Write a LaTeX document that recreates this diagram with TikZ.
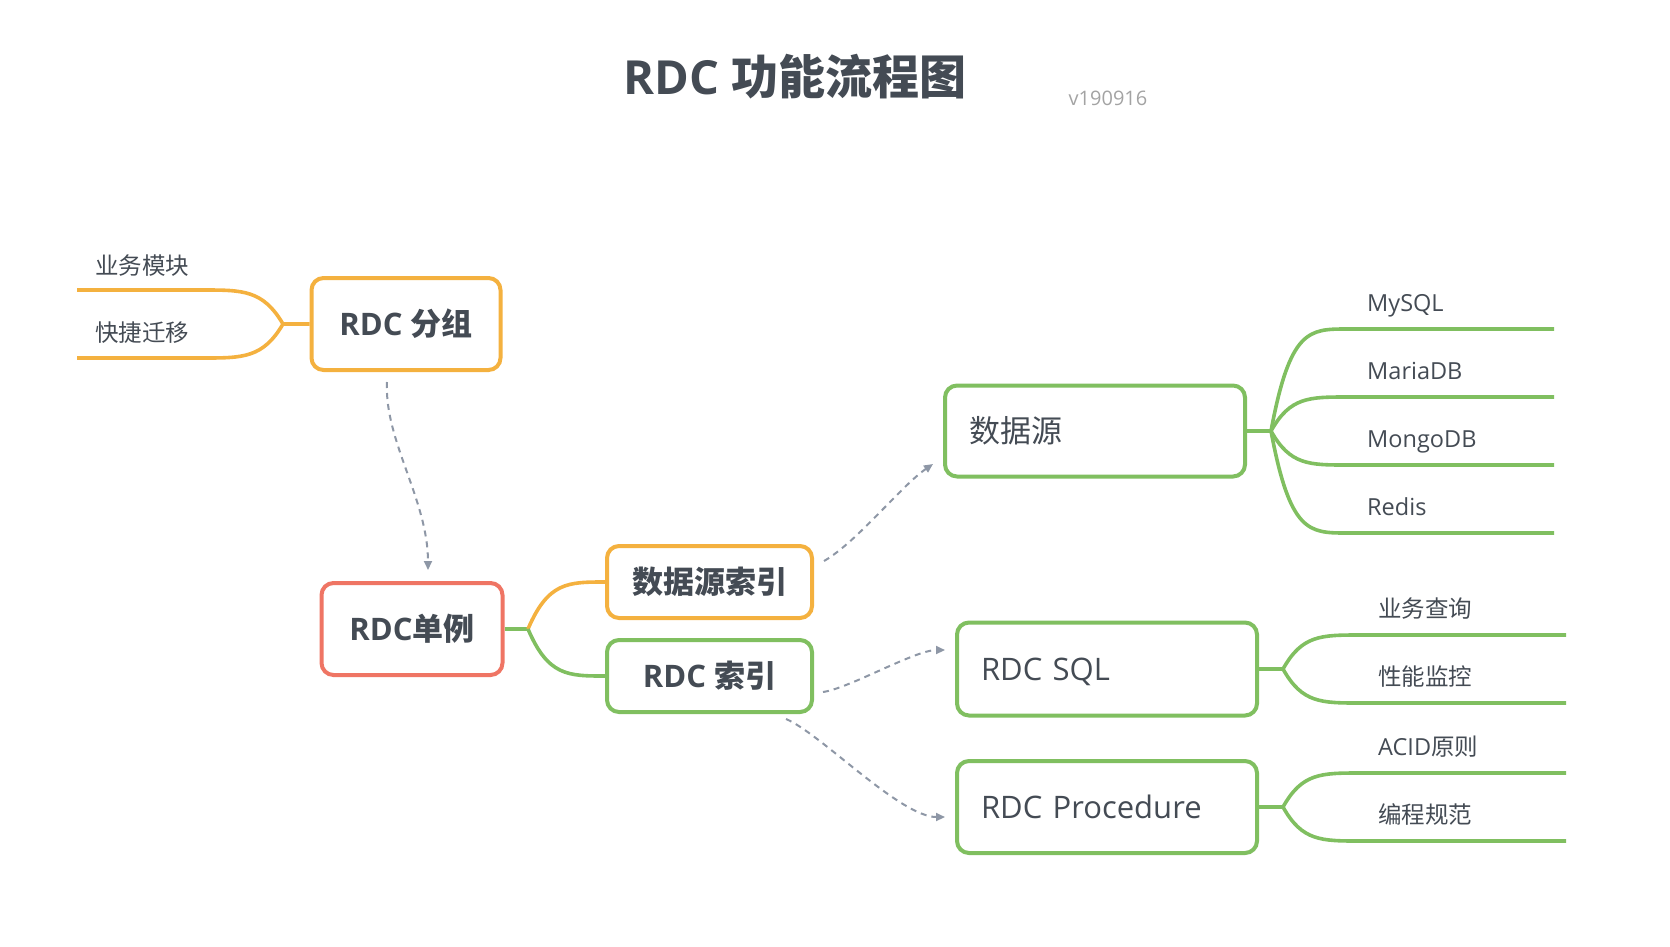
\documentclass[tikz,border=0pt]{standalone}
\usepackage{fontspec}
\setmainfont{Open Sans}
\newfontfamily\cjk{Noto Sans CJK SC}
\usetikzlibrary{arrows.meta}
\definecolor{ink}{HTML}{444B54}
\definecolor{orange edge}{HTML}{F4B13F}
\definecolor{green edge}{HTML}{80BF60}
\definecolor{red edge}{HTML}{EF7564}
\definecolor{link gray}{HTML}{8E97A6}
\definecolor{version gray}{HTML}{A3A3A3}
\tikzset{box/.style={draw, rounded corners=12pt, line width=4pt, fill=white, text=ink, inner sep=0pt, text height=23pt, text depth=1pt},
	boldbox/.style={box, font=\fontsize{31}{36}\selectfont\bfseries},
	plainbox/.style={box, font=\fontsize{31}{36}\selectfont, inner xsep=24pt, text width=252pt, align=left},
	leaf/.style={anchor=base west, inner sep=0pt, text=ink, font=\fontsize{23.5}{28}\selectfont},
	branch/.style={line width=3.6pt},
	link/.style={draw=link gray, line width=2pt, dash pattern=on 6pt off 5pt, -{Triangle[length=9pt,width=8pt]}}}

\begin{document}
\begin{tikzpicture}[x=1pt,y=-1pt]
	\useasboundingbox (0,0) rectangle (1670,946);
	\node[anchor=base, text=ink, font=\fontsize{47}{54}\selectfont\bfseries] (title) at (795,94) {RDC {\cjk 功能流程图}};
	\node[anchor=base, text=version gray, font=\fontsize{20}{24}\selectfont] (version) at (1108,105) {v190916};
	
	\node[boldbox, draw=orange edge, minimum width=189pt, minimum height=92pt] (fenzu) at (406,324) {RDC {\cjk 分组}};
	\node[boldbox, draw=red edge, minimum width=181pt, minimum height=92pt] (danli) at (412,629) {RDC{\cjk 单例}};
	\node[boldbox, draw=orange edge, minimum width=205pt, minimum height=72pt] (sjyindex) at (709.5,582) {\cjk 数据源索引};
	\node[boldbox, draw=green edge, minimum width=205pt, minimum height=72pt] (rdcindex) at (709.5,676) {RDC {\cjk 索引}};
	\node[plainbox, draw=green edge, minimum height=91pt] (sjy) at (1095,431) {\cjk 数据源};
	\node[plainbox, draw=green edge, minimum height=93pt] (rdcsql) at (1107,669) {RDC SQL};
	\node[plainbox, draw=green edge, minimum height=92pt] (rdcproc) at (1107,807) {RDC Procedure};
	
	% RDC 分组
	\node[leaf] (mokuai) at (95,274) {\cjk 业务模块};
	\node[leaf] (qianyi) at (95,341) {\cjk 快捷迁移};
	\coordinate (j1) at (283,324);
	\coordinate (mokuai end) at (77,290);
	\coordinate (qianyi end) at (77,358);
	\draw[branch, orange edge] (fenzu.west) -- (j1) .. controls (263,290) and (243,290) .. (203,290) -- (mokuai end);
	\draw[branch, orange edge] (j1) .. controls (263,358) and (243,358) .. (203,358) -- (qianyi end);
	
	% RDC单例
	\coordinate (j3) at (528,629);
	\draw[branch, green edge] (danli.east) -- (j3);
	\draw[branch, orange edge] (j3) .. controls (548,582) and (568,582) .. (sjyindex.west);
	\draw[branch, green edge] (j3) .. controls (548,676) and (568,676) .. (rdcindex.west);
	
	% 数据源
	\node[leaf] (mysql) at (1367,311) {MySQL};
	\node[leaf] (mariadb) at (1367,379) {MariaDB};
	\node[leaf] (mongodb) at (1367,447) {MongoDB};
	\node[leaf] (redis) at (1367,515) {Redis};
	\coordinate (j2) at (1271,431);
	\coordinate (mysql end) at (1554,329);
	\coordinate (mariadb end) at (1554,397);
	\coordinate (mongodb end) at (1554,465);
	\coordinate (redis end) at (1554,533);
	\draw[branch, green edge] (sjy.east) -- (j2);
	\draw[branch, green edge] (j2) .. controls (1290,329) and (1309,329) .. (1347,329) -- (mysql end);
	\draw[branch, green edge] (j2) .. controls (1290,397) and (1309,397) .. (1347,397) -- (mariadb end);
	\draw[branch, green edge] (j2) .. controls (1290,465) and (1309,465) .. (1347,465) -- (mongodb end);
	\draw[branch, green edge] (j2) .. controls (1290,533) and (1309,533) .. (1347,533) -- (redis end);
	
	% RDC SQL
	\node[leaf] (chaxun) at (1378,617) {\cjk 业务查询};
	\node[leaf] (jiankong) at (1378,685) {\cjk 性能监控};
	\coordinate (j4) at (1283,669);
	\coordinate (chaxun end) at (1566,635);
	\coordinate (jiankong end) at (1566,703);
	\draw[branch, green edge] (rdcsql.east) -- (j4);
	\draw[branch, green edge] (j4) .. controls (1302,635) and (1321,635) .. (1360,635) -- (chaxun end);
	\draw[branch, green edge] (j4) .. controls (1302,703) and (1321,703) .. (1360,703) -- (jiankong end);
	
	% RDC Procedure
	\node[leaf] (acid) at (1378,755) {ACID{\cjk 原则}};
	\node[leaf] (guifan) at (1378,823) {\cjk 编程规范};
	\coordinate (j5) at (1283,807);
	\coordinate (acid end) at (1566,773);
	\coordinate (guifan end) at (1566,841);
	\draw[branch, green edge] (rdcproc.east) -- (j5);
	\draw[branch, green edge] (j5) .. controls (1302,773) and (1321,773) .. (1360,773) -- (acid end);
	\draw[branch, green edge] (j5) .. controls (1302,841) and (1321,841) .. (1360,841) -- (guifan end);
	
	\draw[link] ([xshift=-19pt,yshift=-10pt]fenzu.south) .. controls (384,440) and (428,500) .. ([xshift=16pt,yshift=11pt]danli.north);
	\draw[link] ([xshift=10pt,yshift=21pt]sjyindex.east) .. controls (857,542) and (901,486) .. ([xshift=-10pt,yshift=-33pt]sjy.west);
	\draw[link] ([xshift=9pt,yshift=-16pt]rdcindex.east) .. controls (850,688) and (915,650) .. ([xshift=-10pt,yshift=19pt]rdcsql.west);
	\draw[link] ([xshift=-28pt,yshift=-5pt]rdcindex.south east) .. controls (820,733) and (900,817) .. ([xshift=-10pt,yshift=-10pt]rdcproc.west);
\end{tikzpicture}
\end{document}
